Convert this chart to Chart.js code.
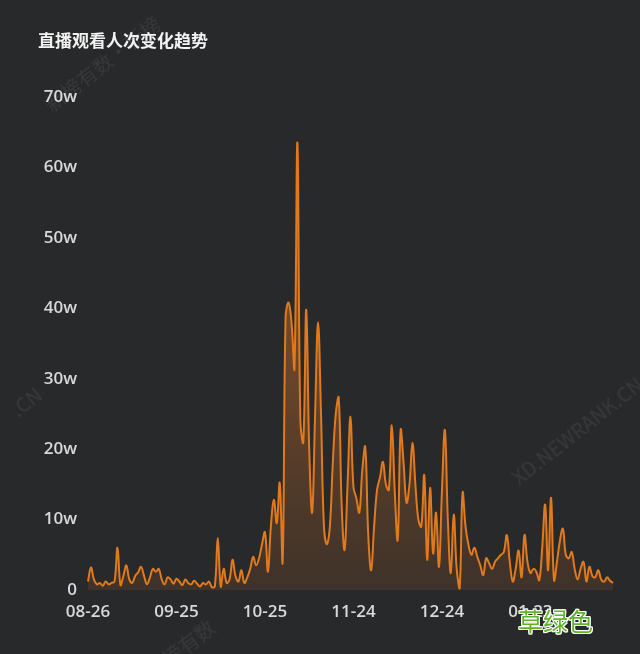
<!DOCTYPE html>
<html>
<head>
<meta charset="utf-8">
<script src="https://cdn.jsdelivr.net/npm/chart.js@4/dist/chart.umd.min.js"></script>
<style>
  html, body { margin: 0; padding: 0; background: #28292b; }
  #wrap { position: relative; width: 640px; height: 654px; overflow: hidden; background: #28292b; }
  #c { position: absolute; left: 0; top: 0; }
  .title { position: absolute; left: 38px; top: 27px; color: #f2f2f2; font: bold 17px "Noto Sans CJK SC", sans-serif; }
  .wm { position: absolute; color: rgba(255,255,255,0.07); font: 20px "Noto Sans CJK SC", sans-serif; white-space: nowrap; transform-origin: left top; }
  .tag { position: absolute; left: 518px; top: 602px; color: #5fb52a; font: 25px "Noto Sans CJK SC", sans-serif;
         text-shadow: -1px -1px 0 #fff, 1px -1px 0 #fff, -1px 1px 0 #fff, 1px 1px 0 #fff, 0 1px 0 #fff, 0 -1px 0 #fff, 1px 0 0 #fff, -1px 0 0 #fff; }
</style>
</head>
<body>
<div id="wrap">
  <canvas id="c" width="640" height="654"></canvas>
  <div class="title">直播观看人次变化趋势</div>
  <div class="wm" style="left:38px; top:95px; transform: rotate(-38deg);">新榜有数·新榜</div>
  <div class="wm" style="left:505px; top:468px; transform: rotate(-38deg);">XD.NEWRANK.CN</div>
  <div class="wm" style="left:4px; top:400px; transform: rotate(-38deg);">.CN</div>
  <div class="wm" style="left:140px; top:662px; transform: rotate(-38deg);">新榜有数</div>
  <div class="tag">草绿色</div>
</div>
<script>
// ---- data ----
const startDate = [2023, 8, 26];   // first category: 08-26
const dayCount = 179;              // daily categories through 02-20
const tickEvery = 30;              // x tick label every 30 days
const yTickValues = [0, 10, 20, 30, 40, 50, 60, 70]; // in 万 (w)

// viewers per day, in units of 万 (10,000)
const views = [
  1.2, 3.2, 1.5, 0.8, 1.0, 0.6, 1.2, 0.8, 1.0, 1.2,
  6.0, 0.7, 2.0, 3.5, 1.5, 1.0, 2.0, 2.5, 3.3, 2.0,
  0.8, 1.8, 3.0, 2.6, 3.0, 1.5, 0.8, 1.8, 1.5, 0.9,
  1.6, 1.2, 0.7, 1.5, 1.0, 0.8, 1.3, 0.9, 0.5, 1.0,
  0.8, 1.2, 0.4, 0.5, 7.4, 0.5, 3.0, 1.0, 1.5, 4.3,
  2.0, 1.2, 2.8, 1.0, 1.8, 3.0, 4.7, 3.5, 4.5, 6.5,
  8.2, 2.6, 9.0, 12.8, 9.5, 15.2, 4.0, 38.8, 40.8, 38.0,
  31.5, 63.5, 24.0, 21.0, 39.8, 20.0, 11.0, 25.0, 38.0, 25.0,
  9.0, 6.5, 9.0, 18.0, 25.0, 27.3, 12.0, 5.7, 15.0, 24.6,
  14.6, 13.0, 11.0, 17.0, 20.3, 8.0, 2.8, 9.0, 14.2, 16.0,
  18.2, 15.0, 14.2, 23.4, 14.0, 7.1, 22.7, 18.0, 12.4, 15.0,
  20.9, 15.0, 10.0, 9.0, 16.3, 4.3, 14.5, 5.2, 11.0, 3.3,
  14.0, 22.7, 10.0, 2.4, 10.7, 3.0, 0.2, 13.8, 9.0, 6.4,
  5.0, 6.0, 4.7, 3.5, 2.1, 4.5, 3.8, 3.0, 4.0, 4.5,
  5.0, 5.4, 7.8, 4.0, 1.2, 3.0, 5.6, 1.8, 7.8, 4.0,
  2.4, 3.0, 2.6, 1.4, 6.0, 12.1, 2.8, 13.1, 1.4, 4.0,
  7.0, 8.7, 5.0, 4.5, 5.4, 3.0, 1.5, 3.0, 4.0, 1.2,
  3.3, 2.0, 1.8, 2.8, 1.5, 1.2, 1.8, 1.3, 1.0
];

// category labels MM-DD
const labels = [];
{
  const d = new Date(startDate[0], startDate[1] - 1, startDate[2]);
  for (let i = 0; i < dayCount; i++) {
    const mm = String(d.getMonth() + 1).padStart(2, '0');
    const dd = String(d.getDate()).padStart(2, '0');
    labels.push(mm + '-' + dd);
    d.setDate(d.getDate() + 1);
  }
}

const ctx = document.getElementById('c').getContext('2d');
new Chart(ctx, {
  type: 'line',
  data: {
    labels: labels,
    datasets: [{
      data: views,
      borderColor: '#e07a1c',
      borderWidth: 2,
      pointRadius: 0,
      tension: 0.4,
      fill: 'origin',
      backgroundColor: (c) => {
        const area = c.chart.chartArea;
        if (!area) return 'rgba(214,116,30,0.3)';
        const g = c.chart.ctx.createLinearGradient(0, area.top, 0, area.bottom);
        g.addColorStop(0, 'rgba(220,120,35,0.6)');
        g.addColorStop(0.6, 'rgba(200,110,40,0.38)');
        g.addColorStop(1, 'rgba(170,95,40,0.18)');
        return g;
      }
    }]
  },
  options: {
    responsive: false,
    animation: false,
    layout: { padding: { top: 97, right: 27, bottom: 22, left: 0 } },
    plugins: { legend: { display: false }, tooltip: { enabled: false }, title: { display: false } },
    scales: {
      x: {
        grid: { display: false, drawTicks: false },
        border: { display: false },
        afterFit: (s) => { s.height = 42; },
        ticks: {
          autoSkip: false,
          maxRotation: 0,
          padding: 12,
          color: '#d9d9d9',
          font: { family: 'Open Sans', size: 17, weight: '600' },
          callback: function (v, i) { return i % tickEvery === 0 ? this.getLabelForValue(v) : null; }
        }
      },
      y: {
        min: 0, max: 70,
        grid: { display: false, drawTicks: false },
        border: { display: false },
        afterFit: (s) => { s.width = 88; },
        afterBuildTicks: (s) => { s.ticks = yTickValues.map(v => ({ value: v })); },
        ticks: {
          padding: 11,
          color: '#d9d9d9',
          font: { family: 'Open Sans', size: 17, weight: '600' },
          callback: (v) => v === 0 ? '0' : v + 'w'
        }
      }
    }
  }
});
</script>
</body>
</html>
